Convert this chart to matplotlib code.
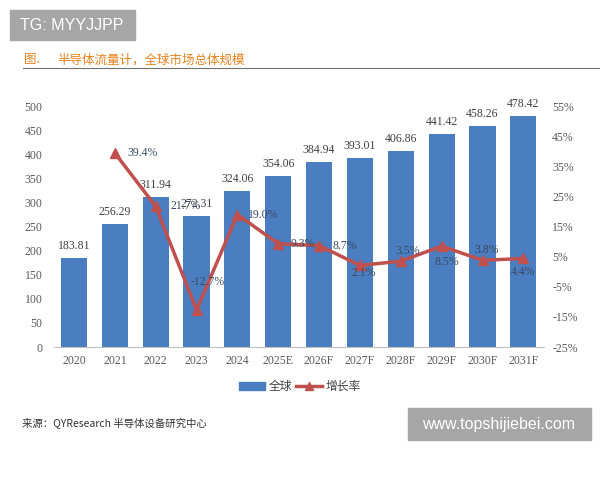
import matplotlib
matplotlib.use("Agg")
import matplotlib.pyplot as plt
from matplotlib.patches import Rectangle
from matplotlib.lines import Line2D

categories = ["2020", "2021", "2022", "2023", "2024", "2025E", "2026F", "2027F",
              "2028F", "2029F", "2030F", "2031F"]
market = [183.81, 256.29, 311.94, 272.31, 324.06, 354.06, 384.94, 393.01,
          406.86, 441.42, 458.26, 478.42]
growth = [None, 39.4, 21.7, -12.7, 19.0, 9.3, 8.7, 2.1, 3.5, 8.5, 3.8, 4.4]
growth_labels = ["", "39.4%", "21.7%", "-12.7%", "19.0%", "9.3%", "8.7%", "2.1%",
                 "3.5%", "8.5%", "3.8%", "4.4%"]
left_ticks = list(range(0, 501, 50))
right_ticks = list(range(-25, 56, 10))

plt.rcParams['font.family'] = ['Liberation Serif', 'Noto Sans CJK SC', 'DejaVu Sans']
cjk = ['Noto Sans CJK SC', 'DejaVu Sans']

fig = plt.figure(figsize=(6, 4.8), dpi=100)
ax = fig.add_axes([0.0893, 0.277, 0.817, 0.502])
x = list(range(len(categories)))
bar_color = "#4a7ec0"
ax.bar(x, market, width=0.64, color=bar_color, zorder=2)
ax.set_xlim(-0.5, len(categories) - 0.5)
ax.set_ylim(0, 500)
ax.set_yticks(left_ticks)
ax.set_xticks(x)
ax.set_xticklabels(categories)
for s in ["top", "right", "left"]:
    ax.spines[s].set_visible(False)
ax.spines["bottom"].set_color("#bfbfbf")
ax.tick_params(axis="both", length=0, labelsize=8.5, labelcolor="#595959")
ax.tick_params(axis="x", pad=6)
ax.tick_params(axis="y", pad=8)

for xi, v in zip(x, market):
    ax.annotate(f"{v:.2f}", (xi, v), xytext=(0, 6), textcoords="offset pixels",
                ha="center", va="bottom", fontsize=8.5, color="#404040")

ax2 = ax.twinx()
ax2.set_ylim(-25, 55)
ax2.set_yticks(right_ticks)
ax2.set_yticklabels([f"{t}%" for t in right_ticks])
for s in ["top", "right", "left", "bottom"]:
    ax2.spines[s].set_visible(False)
ax2.tick_params(axis="y", length=0, labelsize=8.5, labelcolor="#595959", pad=6)
gx = [xi for xi, g in zip(x, growth) if g is not None]
gy = [g for g in growth if g is not None]
line_color = "#c0504d"
ax2.plot(gx, gy, color=line_color, lw=2.5, marker="^", ms=7, zorder=3)

# label offsets in pixels (dx, dy, ha)
offsets = {1: (13, 0, "left"), 2: (15, 0, "left"), 3: (-6, 28, "left"),
           4: (11, 0, "left"), 5: (12, 0, "left"), 6: (13, 0, "left"),
           7: (4, -8, "center"), 8: (7, 10, "center"), 9: (5, -16, "center"),
           10: (4, 10, "center"), 11: (0, -14, "center")}
for xi, g, lab in zip(x, growth, growth_labels):
    if g is None:
        continue
    dx, dy, ha = offsets[xi]
    ax2.annotate(lab, (xi, g), xytext=(dx, dy), textcoords="offset pixels",
                 ha=ha, va="center", fontsize=8.5, color="#3a4a63", zorder=4)

# legend
handles = [Rectangle((0, 0), 1, 1, color=bar_color),
           Line2D([], [], color=line_color, lw=2.5, marker="^", ms=6)]
leg = fig.legend(handles, ["全球", "增长率"], loc="center", bbox_to_anchor=(0.5, 0.195),
                 ncol=2, frameon=False, prop={'family': cjk, 'size': 8.5},
                 handlelength=2.2, handletextpad=0.3, columnspacing=0.3)
for t in leg.get_texts():
    t.set_color("#404040")

# header box
fig.patches.append(Rectangle((10/600, 1-40/480), 125/600, 30/480, transform=fig.transFigure,
                             color="#a6a6a6", zorder=0))
fig.text(20/600, 1-25/480, "TG: MYYJJPP", color="white", fontsize=11.5,
         family=['Liberation Sans', 'DejaVu Sans'], va="center", ha="left")
fig.text(24/600, 1-60/480, "图.", color="#e8821e", fontsize=9, family=cjk,
         va="center", ha="left")
fig.text(57/600, 1-60/480, "半导体流量计，全球市场总体规模", color="#e8821e", fontsize=9,
         family=cjk, va="center", ha="left")
fig.add_artist(Line2D([23/600, 1.0], [1-68/480, 1-68/480], color="#707070", lw=0.8,
                      transform=fig.transFigure))

fig.text(22/600, 1-423/480, "来源：QYResearch 半导体设备研究中心", color="#333333",
         fontsize=7.5, family=cjk, style="italic", va="center", ha="left")

fig.patches.append(Rectangle((408/600, 1-440/480), 183/600, 32/480, transform=fig.transFigure,
                             color="#a6a6a6", zorder=0))
fig.text(499/600, 1-425/480, "www.topshijiebei.com", color="white", fontsize=11.5,
         family=['Liberation Sans', 'DejaVu Sans'], va="center", ha="center")

fig.savefig("out.png", dpi=100)
